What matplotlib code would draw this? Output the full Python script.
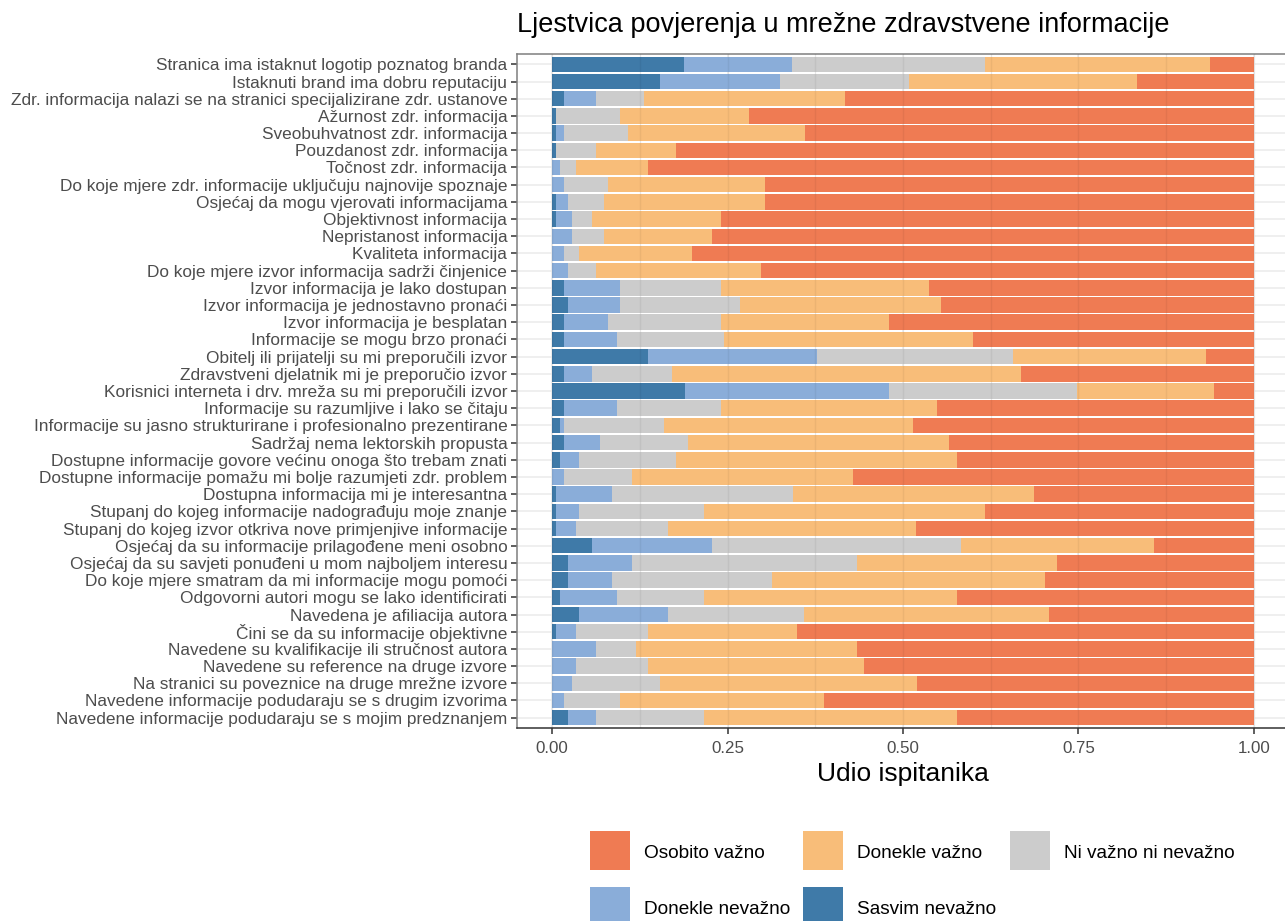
import numpy as np
import matplotlib
matplotlib.use("Agg")
import matplotlib.pyplot as plt
from matplotlib.patches import Rectangle

plt.rcParams['font.family'] = ['Liberation Sans', 'DejaVu Sans']

items = [
    "Stranica ima istaknut logotip poznatog branda",
    "Istaknuti brand ima dobru reputaciju",
    "Zdr. informacija nalazi se na stranici specijalizirane zdr. ustanove",
    "Ažurnost zdr. informacija",
    "Sveobuhvatnost zdr. informacija",
    "Pouzdanost zdr. informacija",
    "Točnost zdr. informacija",
    "Do koje mjere zdr. informacije uključuju najnovije spoznaje",
    "Osjećaj da mogu vjerovati informacijama",
    "Objektivnost informacija",
    "Nepristanost informacija",
    "Kvaliteta informacija",
    "Do koje mjere izvor informacija sadrži činjenice",
    "Izvor informacija je lako dostupan",
    "Izvor informacija je jednostavno pronaći",
    "Izvor informacija je besplatan",
    "Informacije se mogu brzo pronaći",
    "Obitelj ili prijatelji su mi preporučili izvor",
    "Zdravstveni djelatnik mi je preporučio izvor",
    "Korisnici interneta i drv. mreža su mi preporučili izvor",
    "Informacije su razumljive i lako se čitaju",
    "Informacije su jasno strukturirane i profesionalno prezentirane",
    "Sadržaj nema lektorskih propusta",
    "Dostupne informacije govore većinu onoga što trebam znati",
    "Dostupne informacije pomažu mi bolje razumjeti zdr. problem",
    "Dostupna informacija mi je interesantna",
    "Stupanj do kojeg informacije nadograđuju moje znanje",
    "Stupanj do kojeg izvor otkriva nove primjenjive informacije",
    "Osjećaj da su informacije prilagođene meni osobno",
    "Osjećaj da su savjeti ponuđeni u mom najboljem interesu",
    "Do koje mjere smatram da mi informacije mogu pomoći",
    "Odgovorni autori mogu se lako identificirati",
    "Navedena je afiliacija autora",
    "Čini se da su informacije objektivne",
    "Navedene su kvalifikacije ili stručnost autora",
    "Navedene su reference na druge izvore",
    "Na stranici su poveznice na druge mrežne izvore",
    "Navedene informacije podudaraju se s drugim izvorima",
    "Navedene informacije podudaraju se s mojim predznanjem",
]

sasvim_nevazno = [0.188, 0.154, 0.017, 0.005, 0.005, 0.005, 0.000, 0.000, 0.005, 0.005,
                  0.000, 0.000, 0.000, 0.017, 0.023, 0.017, 0.017, 0.137, 0.017, 0.189,
                  0.017, 0.011, 0.017, 0.011, 0.000, 0.005, 0.005, 0.005, 0.057, 0.023,
                  0.023, 0.011, 0.039, 0.005, 0.000, 0.000, 0.000, 0.000, 0.023]
donekle_nevazno = [0.154, 0.171, 0.046, 0.000, 0.012, 0.000, 0.011, 0.017, 0.018, 0.024,
                   0.029, 0.017, 0.023, 0.080, 0.074, 0.063, 0.075, 0.240, 0.040, 0.291,
                   0.075, 0.006, 0.051, 0.028, 0.017, 0.081, 0.034, 0.029, 0.171, 0.091,
                   0.063, 0.081, 0.126, 0.029, 0.063, 0.034, 0.029, 0.017, 0.040]
ni_vazno_ni_nevazno = [0.275, 0.184, 0.068, 0.092, 0.091, 0.058, 0.023, 0.063, 0.051, 0.028,
                       0.045, 0.022, 0.040, 0.143, 0.171, 0.160, 0.153, 0.280, 0.114, 0.268,
                       0.148, 0.143, 0.126, 0.138, 0.097, 0.257, 0.178, 0.131, 0.355, 0.320,
                       0.228, 0.125, 0.194, 0.103, 0.057, 0.103, 0.125, 0.080, 0.154]
donekle_vazno = [0.320, 0.325, 0.286, 0.183, 0.252, 0.114, 0.103, 0.223, 0.229, 0.183,
                 0.154, 0.161, 0.234, 0.297, 0.286, 0.240, 0.355, 0.275, 0.497, 0.195,
                 0.308, 0.354, 0.372, 0.400, 0.315, 0.343, 0.400, 0.354, 0.275, 0.286,
                 0.388, 0.360, 0.349, 0.212, 0.314, 0.308, 0.366, 0.291, 0.360]
osobito_vazno = [0.063, 0.166, 0.583, 0.720, 0.640, 0.823, 0.863, 0.697, 0.697, 0.760,
                 0.772, 0.800, 0.703, 0.463, 0.446, 0.520, 0.400, 0.068, 0.332, 0.057,
                 0.452, 0.486, 0.434, 0.423, 0.571, 0.314, 0.383, 0.481, 0.142, 0.280,
                 0.298, 0.423, 0.292, 0.651, 0.566, 0.555, 0.480, 0.612, 0.423]

# stacking order from left: Sasvim nevažno ... Osobito važno
series_names = ["Sasvim nevažno", "Donekle nevažno", "Ni važno ni nevažno",
                "Donekle važno", "Osobito važno"]
series_vals = [sasvim_nevazno, donekle_nevazno, ni_vazno_ni_nevazno,
               donekle_vazno, osobito_vazno]
colors = ["#3F7AA8", "#8AADD9", "#CCCCCC", "#F8BD79", "#EF7B53"]

title = "Ljestvica povjerenja u mrežne zdravstvene informacije"
xlabel = "Udio ispitanika"
xticks = [0.0, 0.25, 0.5, 0.75, 1.0]
xticklabels = ["0.00", "0.25", "0.50", "0.75", "1.00"]

W, H = 1285, 921
fig = plt.figure(figsize=(W / 100, H / 100), dpi=100)
ax = fig.add_axes([517 / W, 1 - 728 / H, (1289 - 517) / W, (728 - 54) / H])

n = len(items)
ypos = np.arange(n)
left = np.zeros(n)
for name, vals, c in zip(series_names, series_vals, colors):
    v = np.array(vals)
    ax.barh(ypos, v, left=left, height=0.9, color=c, edgecolor='none', zorder=2)
    left = left + v

ax.set_xlim(-0.05, 1.05)
ax.set_ylim(n - 1 + 0.6, -0.6)
ax.set_yticks(ypos)
ax.set_yticklabels(items, fontsize=12.45, color="#4D4D4D")
ax.set_xticks(xticks)
ax.set_xticklabels(xticklabels, fontsize=12.2, color="#4D4D4D")
ax.set_xticks([0.125, 0.375, 0.625, 0.875], minor=True)
ax.tick_params(axis='both', which='major', length=4, width=1.1, color="#333333", pad=3)
ax.tick_params(axis='x', which='major', pad=5)
ax.tick_params(axis='x', which='minor', length=0)
ax.grid(True, which='major', color="#EBEBEB", lw=1.1, zorder=0)
ax.grid(True, which='minor', axis='x', color="#F2F2F2", lw=0.6, zorder=0)
ax.set_axisbelow(True)
for xv in xticks + [0.125, 0.375, 0.625, 0.875]:
    ax.axvline(xv, color="black", alpha=0.05, lw=1, zorder=3)

for s in ['left', 'top']:
    ax.spines[s].set_color("#7F7F7F")
    ax.spines[s].set_linewidth(1.1)
ax.spines['right'].set_visible(False)
ax.spines['bottom'].set_color("#333333")
ax.spines['bottom'].set_linewidth(1.1)

ax.set_xlabel(xlabel, fontsize=19, color="black", labelpad=5)
fig.text(517 / W, 1 - 25 / H, title, fontsize=19.5, ha='left', va='center', color="black")

# legend (row-wise): Osobito važno, Donekle važno, Ni važno ni nevažno / Donekle nevažno, Sasvim nevažno
leg_order = [4, 3, 2, 1, 0]
key_x = [590, 803, 1010, 590, 803]
key_y = [831, 831, 831, 887, 887]
for k, idx in enumerate(leg_order):
    x0, y0 = key_x[k], key_y[k]
    fig.patches.append(Rectangle((x0 / W, 1 - (y0 + 39) / H), 40 / W, 39 / H,
                                 transform=fig.transFigure, facecolor=colors[idx],
                                 edgecolor='none', figure=fig))
    fig.text((x0 + 54) / W, 1 - (y0 + 22) / H, series_names[idx], fontsize=13.7,
             ha='left', va='center', color="black")

fig.savefig("out.png", dpi=100)
